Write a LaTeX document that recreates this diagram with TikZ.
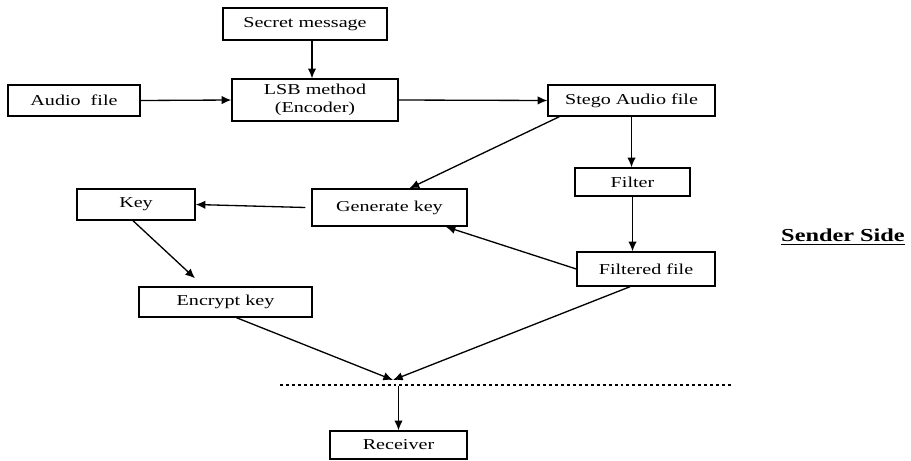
\documentclass[tikz,border=0pt]{standalone}
\usepackage{fontspec}
\setmainfont{Liberation Serif}[FakeStretch=1.33]
\usepackage{tikz}
\usetikzlibrary{arrows.meta}
\tikzset{>={Latex[length=5.5pt,width=4.8pt]}}
\tikzset{
    blk/.style 2 args={draw,line width=0.8pt,rectangle,minimum width=#1,minimum height=#2,
        inner sep=1pt,font=\fontsize{8.6}{10}\selectfont,align=center},
    flow/.style={->,line width=0.75pt},
}

\begin{document}
\begin{tikzpicture}[x=0.02cm,y=-0.02cm]
    % Page frame (pixel grid of the original)
    \useasboundingbox (0,0) rectangle (911,460);
    % Boxes of the sender side
    \node[blk={3.28cm}{0.64cm}] (secret) at (305,24) {Secret message};
    \node[blk={2.64cm}{0.62cm}] (audio) at (74,100.5) {Audio\ \ file};
    \node[blk={3.32cm}{0.84cm}] (lsb) at (315,100) {LSB method\\(Encoder)};
    \node[blk={3.34cm}{0.62cm}] (stego) at (631.5,100.5) {Stego Audio file};
    \node[blk={2.30cm}{0.56cm}] (filter) at (632.5,182) {Filter};
    \node[blk={3.10cm}{0.74cm}] (genkey) at (389.5,207.5) {Generate key};
    \node[blk={2.36cm}{0.62cm}] (key) at (136,204.5) {Key};
    \node[blk={2.76cm}{0.68cm}] (filtered) at (646,269) {Filtered file};
    \node[blk={3.46cm}{0.60cm}] (encrypt) at (225.5,302) {Encrypt\ key};
    \node[blk={2.74cm}{0.56cm}] (receiver) at (398.5,445) {Receiver};
    % Label on the right
    \node[font=\fontsize{10.4}{12}\selectfont\bfseries] (side) at (843,237) {\underline{Sender Side}};
    % Meeting point and border line
    \coordinate (merge) at (393,380);
    \coordinate (cross) at (398.5,386);
    \coordinate (dl) at (280,385);
    \coordinate (dr) at (733,385);
    \draw[line width=1.2pt,dash pattern=on 1.7pt off 1.7pt] (dl) -- (dr);
    % Connectors
    \draw[flow] ([xshift=0.14cm]secret.south) -- ([xshift=0.14cm]secret.south |- lsb.north);
    \draw[flow] (audio.east) -- (lsb.west);
    \draw[flow] (lsb.east) -- (stego.west);
    \draw[flow] ([xshift=0.24cm]stego.south west) -- ([xshift=0.4cm]genkey.north);
    \draw[flow] (stego.south) -- (stego.south |- filter.north);
    \draw[flow] (filter.south) -- (filter.south |- filtered.north);
    \draw[flow] (filtered.west) -- ([xshift=-0.44cm]genkey.south east);
    \draw[flow] ([xshift=-0.12cm]genkey.west) -- (key.east);
    \draw[flow] ([xshift=-0.06cm]key.south) -- ([xshift=-0.61cm,yshift=0.16cm]encrypt.north);
    \draw[flow] ([xshift=0.22cm]encrypt.south) -- (merge);
    \draw[flow] ([xshift=-0.32cm]filtered.south) -- (merge);
    \draw[flow] (cross) -- (receiver.north);
\end{tikzpicture}
\end{document}
